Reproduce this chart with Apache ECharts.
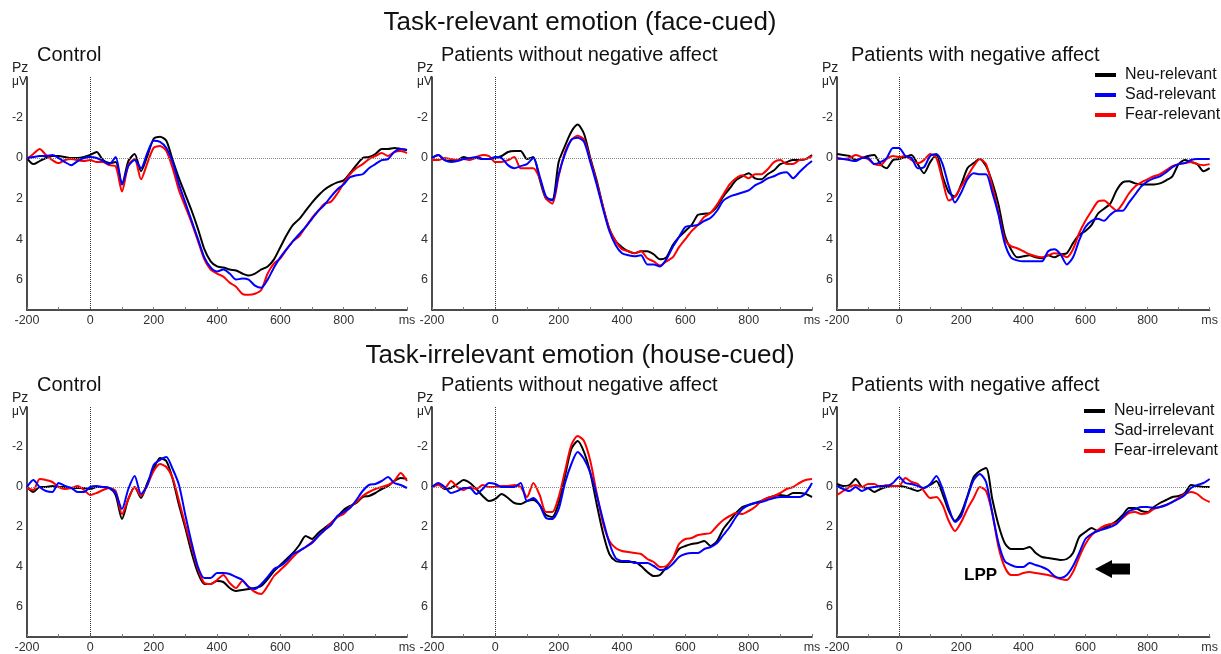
<!DOCTYPE html>
<html>
<head>
<meta charset="utf-8">
<title>Pz ERP by condition</title>
<script src="https://cdn.jsdelivr.net/npm/echarts@6/dist/echarts.min.js"></script>
<style>
  html, body { margin: 0; padding: 0; background: #fff; }
  #chart { width: 1221px; height: 654px; }
</style>
</head>
<body>
<div id="chart"></div>
<script>
// time axis (ms), one value every 20 ms
const times = [
  -200, -180, -160, -140, -120, -100, -80, -60, -40, -20,
  0, 20, 40, 60, 80, 100, 120, 140, 160, 180,
  200, 220, 240, 260, 280, 300, 320, 340, 360, 380,
  400, 420, 440, 460, 480, 500, 520, 540, 560, 580,
  600, 620, 640, 660, 680, 700, 720, 740, 760, 780,
  800, 820, 840, 860, 880, 900, 920, 940, 960, 980,
  1000
];

// ---- task-relevant (face-cued) ----
const ctrlRelNeu = [
  0.0, 0.3, 0.15, 0.0, -0.1, -0.1, -0.05, 0.0, 0.0, -0.05,
  -0.15, -0.3, 0.1, 0.25, 0.2, 1.3, 0.15, -0.2, 0.65, -0.1,
  -0.95, -1.05, -0.85, 0.1, 1.0, 1.8, 2.6, 3.5, 4.5, 5.1,
  5.35, 5.4, 5.5, 5.55, 5.7, 5.8, 5.7, 5.5, 5.35, 5.0,
  4.4, 3.8, 3.3, 3.0, 2.6, 2.2, 1.85, 1.55, 1.35, 1.2,
  1.1, 0.75, 0.35, 0.0, -0.05, -0.2, -0.45, -0.45, -0.5, -0.45,
  -0.4
];
const ctrlRelSad = [
  0.0, -0.05, -0.1, -0.1, -0.15, 0.0, 0.2, 0.35, 0.15, 0.0,
  -0.05, 0.0, 0.15, 0.3, -0.05, 1.3, 0.4, 0.1, 0.5, -0.25,
  -0.85, -0.8, -0.5, 0.2, 1.3, 2.2, 3.1, 4.0, 4.9, 5.4,
  5.6, 5.5, 5.7, 6.0, 5.95, 6.0, 6.3, 6.4, 6.0, 5.4,
  4.9, 4.5, 4.1, 3.75, 3.4, 3.0, 2.6, 2.3, 1.9, 1.55,
  1.3, 0.95, 0.85, 0.8, 0.5, 0.3, 0.1, 0.05, -0.3, -0.45,
  -0.4
];
const ctrlRelFear = [
  0.05, -0.2, -0.45, -0.15, 0.1, 0.25, 0.1, 0.05, 0.1, 0.15,
  0.1, 0.2, 0.2, 0.35, 0.4, 1.65, 0.35, 0.05, 1.05, 0.25,
  -0.5, -0.6, -0.35, 0.5, 1.6, 2.4, 3.2, 4.1, 5.0, 5.5,
  5.7, 5.85, 6.15, 6.35, 6.7, 6.75, 6.7, 6.5, 5.7, 5.2,
  4.95, 4.5, 4.1, 3.85, 3.4, 2.95, 2.6, 2.25, 2.15, 1.75,
  1.25, 0.8, 0.5, 0.3, 0.05, -0.1, -0.25, -0.1, -0.3, -0.35,
  -0.25
];

const noNaRelNeu = [
  0.0, -0.15, 0.1, 0.15, 0.1, -0.05, 0.05, 0.0, 0.05, 0.05,
  0.0, -0.1, -0.3, -0.35, -0.35, 0.05, -0.05, 1.05, 2.0, 2.05,
  0.2, -0.6, -1.3, -1.65, -1.2, 0.0, 1.1, 2.4, 3.5, 4.1,
  4.4, 4.6, 4.7, 4.6, 4.6, 4.75, 5.0, 4.9, 4.3, 3.9,
  3.6, 3.3, 2.8, 2.75, 2.7, 2.4, 1.9, 1.5, 1.1, 0.9,
  0.75, 1.0, 1.05, 0.8, 0.6, 0.3, 0.2, 0.1, 0.1, 0.05,
  -0.15
];
const noNaRelSad = [
  0.0, -0.15, 0.1, 0.2, 0.15, 0.05, 0.0, -0.05, 0.05, 0.05,
  -0.05, 0.0, 0.35, 0.5, 0.4, 0.3, 0.0, 0.9, 1.9, 2.1,
  0.8, -0.2, -0.9, -1.0, -0.8, 0.2, 1.3, 2.5, 3.6, 4.3,
  4.7, 4.8, 4.85, 4.8, 5.25, 5.25, 5.35, 5.0, 4.4, 3.9,
  3.4, 3.35, 3.3, 3.1, 2.95, 2.6, 2.1, 1.9, 1.8, 1.7,
  1.6, 1.35, 1.2, 1.0, 0.9, 0.75, 0.7, 1.0, 0.7, 0.4,
  0.15
];
const noNaRelFear = [
  0.1, 0.1, 0.0, 0.05, 0.1, 0.05, 0.1, -0.05, -0.15, -0.1,
  0.2, 0.2, 0.1, -0.05, 0.5, 0.5, 0.5, 1.0, 2.0, 2.25,
  0.9, -0.3, -0.9, -1.1, -0.9, 0.1, 1.2, 2.4, 3.5, 4.1,
  4.5, 4.6, 4.7, 4.6, 4.95, 5.1, 5.3, 5.1, 4.9, 4.4,
  4.0, 3.6, 3.3, 2.9, 2.7, 2.3, 1.8, 1.3, 1.0, 0.85,
  1.0, 0.8, 0.8, 0.55, 0.2, 0.1, 0.3, 0.3, 0.1, 0.05,
  -0.1
];

const naRelNeu = [
  -0.2, -0.15, -0.1, 0.1, 0.0, -0.1, -0.15, 0.3, 0.5, 0.1,
  0.05, -0.05, -0.15, 0.3, 0.75, 0.2, -0.15, 0.9, 1.7, 1.9,
  1.3, 0.5, 0.25, 0.05, 0.4, 1.2, 2.3, 3.8, 4.5, 4.9,
  4.85, 4.8, 4.9, 4.95, 4.8, 4.9, 4.75, 4.7, 4.2, 3.8,
  3.6, 3.3, 2.75, 2.5, 2.25, 1.6, 1.2, 1.15, 1.25, 1.3,
  1.3, 1.3, 1.25, 1.1, 0.9, 0.3, 0.1, 0.2, 0.3, 0.65,
  0.5
];
const naRelSad = [
  0.0, 0.05, 0.1, 0.15, 0.0, 0.0, 0.3, 0.2, 0.0, -0.5,
  -0.5, -0.1, 0.0, 0.5, 0.45, -0.1, -0.2, 0.3, 1.4, 2.2,
  1.7, 1.05, 0.75, 0.8, 0.8, 1.7, 2.8, 4.2, 4.9, 5.05,
  5.1, 5.1, 5.1, 5.1, 4.6, 4.5, 4.75, 5.25, 4.9, 4.05,
  3.4, 3.1, 3.0, 3.1, 2.8, 2.6, 2.6, 2.2, 1.8, 1.4,
  1.15, 1.0, 0.9, 0.7, 0.45, 0.3, 0.25, 0.1, 0.05, 0.05,
  0.05
];
const naRelFear = [
  0.05, 0.05, 0.0, -0.15, -0.05, 0.05, 0.3, 0.35, 0.05, -0.1,
  -0.05, -0.1, 0.1, 0.25, 0.1, -0.2, 0.0, 1.1, 2.1, 1.9,
  1.4, 0.9, 0.4, 0.05, 0.3, 1.4, 2.7, 4.0, 4.35, 4.45,
  4.6, 4.75, 4.85, 4.9, 4.8, 4.7, 4.75, 4.9, 4.5, 3.7,
  3.1, 2.6, 2.15, 2.1, 2.35, 2.6, 2.25, 1.75, 1.4, 1.2,
  1.05, 0.9, 0.8, 0.6, 0.4, 0.3, 0.25, 0.2, 0.3, 0.35,
  0.3
];

// ---- task-irrelevant (house-cued) ----
const ctrlIrrNeu = [
  0.0, 0.25, 0.0, 0.0, -0.05, 0.0, 0.0, 0.05, 0.05, 0.05,
  0.1, 0.0, 0.0, 0.05, 0.4, 1.6, 0.6, 0.0, 0.55, -0.2,
  -0.9, -1.45, -1.3, -0.4, 0.9, 2.05, 3.3, 4.3, 4.85, 4.85,
  4.7, 4.75, 5.05, 5.2, 5.15, 5.1, 5.05, 4.95, 4.6, 4.2,
  3.9, 3.6, 3.3, 2.9, 2.45, 2.6, 2.3, 2.05, 1.8, 1.5,
  1.15, 0.95, 0.8, 0.5, 0.45, 0.3, 0.1, -0.05, -0.3, -0.45,
  -0.4
];
const ctrlIrrSad = [
  0.0, -0.35, 0.0, 0.2, 0.25, -0.2, -0.05, 0.05, 0.25, 0.25,
  0.0, -0.05, 0.0, 0.05, 0.3, 1.1, 0.1, -0.55, 0.35, -0.1,
  -1.1, -1.35, -1.5, -0.9, -0.1, 1.4, 2.8, 4.0, 4.55, 4.55,
  4.3, 4.3, 4.35, 4.5, 4.65, 5.0, 5.1, 4.85, 4.5, 4.1,
  3.95, 3.7, 3.35, 3.2, 3.0, 2.8, 2.45, 2.15, 1.9, 1.45,
  1.25, 1.05, 0.65, 0.2, -0.1, -0.15, -0.3, -0.5, -0.2, -0.1,
  0.05
];
const ctrlIrrFear = [
  0.05, 0.15, -0.4, -0.35, -0.25, 0.0, 0.1, 0.05, -0.05, 0.15,
  0.4, 0.3, 0.15, 0.05, 0.2, 1.35, 0.6, 0.0, 0.45, -0.1,
  -0.8, -1.15, -1.0, -0.45, 0.7, 1.9, 3.0, 4.1, 4.8, 4.85,
  4.65, 4.4, 4.8, 5.05, 4.7, 5.0, 5.25, 5.35, 4.95, 4.45,
  4.15, 3.85, 3.5, 3.2, 3.0, 2.75, 2.45, 2.15, 1.8, 1.5,
  1.35, 1.0, 0.75, 0.45, 0.25, 0.1, 0.0, -0.1, -0.3, -0.7,
  -0.3
];

const noNaIrrNeu = [
  0.0, -0.15, 0.1, 0.05, -0.15, -0.35, -0.2, 0.1, 0.45, 0.7,
  0.6, 0.35, 0.55, 0.8, 0.85, 0.7, 0.65, 0.9, 1.4, 1.5,
  0.8, -0.55, -1.9, -2.3, -1.75, -0.7, 0.85, 2.3, 3.35, 3.7,
  3.75, 3.75, 3.75, 3.95, 4.25, 4.45, 4.4, 4.0, 3.6, 3.1,
  2.95, 2.85, 2.8, 2.7, 2.95, 2.7, 2.1, 1.7, 1.3, 1.0,
  0.9, 0.8, 0.7, 0.55, 0.45, 0.4, 0.45, 0.3, 0.3, 0.35,
  0.5
];
const noNaIrrSad = [
  0.0, -0.2, 0.0, 0.3, 0.2, 0.05, 0.05, 0.35, 0.1, -0.2,
  -0.15, 0.0, 0.0, 0.0, -0.2, 0.7, 0.55, 0.9, 1.55, 1.6,
  1.1, -0.2, -1.15, -1.75, -1.4, -0.7, 0.4, 1.65, 2.8, 3.55,
  3.7, 3.7, 3.8, 3.8, 3.8, 3.95, 4.15, 4.1, 3.85, 3.5,
  3.35, 3.3, 3.3, 3.1, 3.0, 2.8, 2.4, 2.0, 1.5, 1.1,
  0.9, 0.8, 0.75, 0.65, 0.55, 0.5, 0.5, 0.5, 0.5, 0.3,
  -0.2
];
const noNaIrrFear = [
  0.0, -0.1, 0.05, -0.3, 0.0, 0.15, 0.0, 0.1, -0.1, 0.0,
  0.0, -0.05, -0.05, -0.1, 0.0, 0.5, -0.2, 0.4, 1.25, 1.25,
  0.5, -0.8, -2.1, -2.55, -2.3, -1.3, 0.3, 1.8, 2.7, 3.05,
  3.2, 3.25, 3.3, 3.35, 3.6, 3.75, 4.0, 3.95, 3.6, 2.85,
  2.6, 2.55, 2.4, 2.35, 2.3, 1.95, 1.65, 1.45, 1.3, 1.35,
  1.2, 1.0, 0.7, 0.55, 0.45, 0.3, 0.1, 0.0, -0.2, -0.35,
  -0.4
];

const naIrrNeu = [
  -0.15, -0.05, -0.1, -0.4, 0.0, 0.05, 0.25, 0.1, 0.0, -0.05,
  -0.05, 0.0, 0.1, 0.2, 0.05, -0.1, -0.3, 0.35, 1.2, 1.7,
  1.3, 0.45, -0.5, -0.8, -0.95, 0.6, 1.9, 2.8, 3.1, 3.1,
  3.1, 3.0, 3.3, 3.5, 3.55, 3.6, 3.65, 3.6, 3.3, 2.5,
  2.25, 2.05, 2.2, 2.05, 1.9, 1.7, 1.4, 1.05, 1.05, 1.2,
  1.25, 1.0, 0.8, 0.65, 0.5, 0.45, 0.3, -0.1, -0.05, 0.0,
  0.0
];
const naIrrSad = [
  -0.05, 0.1, 0.2, 0.0, 0.2, 0.05, 0.0, -0.05, -0.05, -0.2,
  -0.5, -0.2, -0.15, -0.05, 0.05, -0.15, -0.55, 0.1, 1.05, 1.75,
  1.45, 0.5, -0.35, -0.65, -0.25, 1.3, 2.8, 3.7, 3.9, 4.0,
  4.0, 3.8, 3.9, 4.0, 4.15, 4.45, 4.55, 4.4, 3.95, 3.3,
  2.6, 2.35, 2.2, 2.1, 2.0, 1.85, 1.5, 1.2, 1.1, 1.0,
  1.0, 1.05, 1.0, 0.9, 0.75, 0.6, 0.4, 0.05, -0.1, -0.2,
  -0.4
];
const naIrrFear = [
  0.4, 0.2, 0.0, -0.1, 0.0, -0.15, -0.15, 0.0, -0.1, -0.05,
  -0.05, -0.45, -0.25, -0.15, 0.2, 0.55, 0.5, 0.9, 1.7, 2.2,
  1.75, 1.1, 0.55, 0.0, 0.2, 1.3, 3.0, 4.0, 4.4, 4.4,
  4.3, 4.25, 4.3, 4.35, 4.4, 4.5, 4.6, 4.65, 4.25, 3.5,
  2.85, 2.4, 2.15, 1.95, 1.85, 1.8, 1.55, 1.3, 1.25, 1.35,
  1.3, 1.1, 1.0, 0.9, 0.75, 0.55, 0.35, 0.25, 0.35, 0.6,
  0.75
];

const relNames = ['Neu-relevant', 'Sad-relevant', 'Fear-relevant'];
const irrNames = ['Neu-irrelevant', 'Sad-irrelevant', 'Fear-irrelevant'];
const lineColors = ['#000000', '#0000ff', '#ff0000'];
const panelTitles = ['Control', 'Patients without negative affect', 'Patients with negative affect'];

// layout of the six plots
const colLeft = [27, 432, 837];
const rowTop = [77, 407];
const plotW = 380;
const plotH = 233;
const FONT = 'Liberation Sans, Arial, sans-serif';

const panels = [
  { row: 0, col: 0, names: relNames, data: [ctrlRelNeu, ctrlRelSad, ctrlRelFear] },
  { row: 0, col: 1, names: relNames, data: [noNaRelNeu, noNaRelSad, noNaRelFear] },
  { row: 0, col: 2, names: relNames, data: [naRelNeu, naRelSad, naRelFear] },
  { row: 1, col: 0, names: irrNames, data: [ctrlIrrNeu, ctrlIrrSad, ctrlIrrFear] },
  { row: 1, col: 1, names: irrNames, data: [noNaIrrNeu, noNaIrrSad, noNaIrrFear] },
  { row: 1, col: 2, names: irrNames, data: [naIrrNeu, naIrrSad, naIrrFear] }
];

const grids = [], xAxes = [], yAxes = [], series = [];
const graphics = [];

panels.forEach((p, i) => {
  const left = colLeft[p.col];
  const top = rowTop[p.row];
  grids.push({ left: left, top: top, width: plotW, height: plotH });

  xAxes.push({
    gridIndex: i, type: 'value', min: -200, max: 1000, interval: 200,
    axisLine: { show: true, onZero: false, lineStyle: { color: '#111', width: 1.5 } },
    axisTick: { show: true, inside: true, length: 3, lineStyle: { color: '#777' } },
    minorTick: { show: true, splitNumber: 2, length: 3, lineStyle: { color: '#777' } },
    splitLine: { show: false },
    axisLabel: {
      color: '#333', fontSize: 12.5, fontFamily: FONT, margin: 4,
      formatter: v => (v === 1000 ? 'ms' : String(v))
    }
  });

  yAxes.push({
    gridIndex: i, type: 'value', inverse: true, min: -4, max: 7.5, interval: 2,
    axisLine: { show: true, onZero: false, lineStyle: { color: '#111', width: 1.5 } },
    axisTick: { show: false },
    splitLine: { show: false },
    axisLabel: {
      color: '#333', fontSize: 12.5, fontFamily: FONT, margin: 4,
      showMinLabel: false, showMaxLabel: false
    }
  });

  // draw black, red, blue (blue ends on top)
  [0, 2, 1].forEach((k, n) => {
    const s = {
      name: p.names[k], type: 'line', xAxisIndex: i, yAxisIndex: i,
      data: times.map((t, j) => [t, p.data[k][j]]),
      showSymbol: false, smooth: 0.25, z: 3 + n,
      lineStyle: { color: lineColors[k], width: 2 },
      itemStyle: { color: lineColors[k] }
    };
    if (n === 0) {
      // dotted zero lines (baseline and stimulus onset)
      s.markLine = {
        silent: true, symbol: 'none', label: { show: false },
        data: [
          { yAxis: 0, lineStyle: { color: '#888', type: 'dotted', width: 1 } },
          { xAxis: 0, lineStyle: { color: '#333', type: 'dotted', width: 1 } }
        ]
      };
    }
    series.push(s);
  });

  // panel title and channel/unit labels
  const subX = [37, 441, 851][p.col];
  graphics.push({
    type: 'text', x: subX, y: top - 22,
    style: { text: panelTitles[p.col], fontSize: 20, fontFamily: FONT, fill: '#111', verticalAlign: 'middle' }
  });
  graphics.push({
    type: 'text', x: left - 15, y: top - 9,
    style: { text: 'Pz', fontSize: 14, fontFamily: FONT, fill: '#222', verticalAlign: 'middle' }
  });
  graphics.push({
    type: 'text', x: left - 15, y: top + 5,
    style: { text: 'μV', fontSize: 12, fontFamily: FONT, fill: '#222', verticalAlign: 'middle' }
  });
});

// section headings
graphics.push({
  type: 'text', x: 580, y: 23,
  style: { text: 'Task-relevant emotion (face-cued)', fontSize: 26, fontFamily: FONT, fill: '#111', align: 'center', verticalAlign: 'middle' }
});
graphics.push({
  type: 'text', x: 580, y: 356,
  style: { text: 'Task-irrelevant emotion (house-cued)', fontSize: 26, fontFamily: FONT, fill: '#111', align: 'center', verticalAlign: 'middle' }
});

// LPP annotation with arrow
graphics.push({
  type: 'text', x: 964, y: 575,
  style: { text: 'LPP', fontSize: 17, fontWeight: 'bold', fontFamily: FONT, fill: '#000', verticalAlign: 'middle' }
});
graphics.push({
  type: 'polygon',
  shape: { points: [[1095, 569], [1112, 560], [1112, 563.5], [1130, 563.5], [1130, 574.5], [1112, 574.5], [1112, 578]] },
  style: { fill: '#000' }
});

const legendBase = {
  orient: 'vertical', icon: 'rect', itemWidth: 21, itemHeight: 4, itemGap: 4, padding: 0,
  textStyle: { fontSize: 16, fontFamily: FONT, color: '#111', padding: [0, 0, 0, 4] },
  selectedMode: false
};

const chart = echarts.init(document.getElementById('chart'));
chart.setOption({
  animation: false,
  backgroundColor: '#fff',
  textStyle: { fontFamily: FONT },
  legend: [
    Object.assign({}, legendBase, { data: relNames, left: 1095, top: 67 }),
    Object.assign({}, legendBase, { data: irrNames, left: 1084, top: 403 })
  ],
  grid: grids,
  xAxis: xAxes,
  yAxis: yAxes,
  series: series,
  graphic: graphics
});
</script>
</body>
</html>
